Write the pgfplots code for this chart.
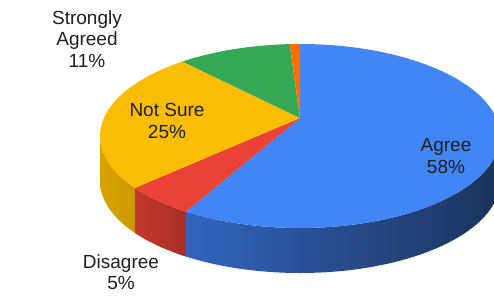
\documentclass[border=0pt]{standalone}
\usepackage{pgfplots}
\usepackage{pgfplotstable}
\pgfplotsset{compat=1.18}
\usepackage{fontspec}
\setmainfont{Liberation Sans}

\definecolor{cBlue}{HTML}{4285F4}
\definecolor{cBlueL}{HTML}{3364BE}
\definecolor{cBlueR}{HTML}{1B335B}
\definecolor{cRed}{HTML}{EA4335}
\definecolor{cRedL}{HTML}{C0392C}
\definecolor{cRedR}{HTML}{A92E26}
\definecolor{cYel}{HTML}{FBBC04}
\definecolor{cYelL}{HTML}{D9A300}
\definecolor{cYelR}{HTML}{CC9800}
\definecolor{cGreen}{HTML}{34A853}
\definecolor{cOrange}{HTML}{FF6D01}
\definecolor{cText}{HTML}{1F1F1F}

% shares in percent, clockwise from 12 o'clock
\pgfplotstableread{
slice pct
Agree 58
Disagree 5
NotSure 25
StronglyAgreed 11
Other 1
}\piedata

% geometry (1 axis unit = 1pt)
\def\cx{300}\def\cy{159}\def\rx{200}\def\ry{92}\def\pdepth{45}
\def\aO{0.099}% perspective: centre of the pie seen above the ellipse centre
\pgfmathsetmacro\apexY{\cy+18}

\newcommand\proj[2]{\pgfmathsetmacro#1{#2+2*atan(\aO*cos(#2)/(1+\aO*sin(#2)))}}

\pgfplotstablegetelem{0}{pct}\of\piedata \let\pA\pgfplotsretval
\pgfplotstablegetelem{1}{pct}\of\piedata \let\pB\pgfplotsretval
\pgfplotstablegetelem{2}{pct}\of\piedata \let\pC\pgfplotsretval
\pgfplotstablegetelem{3}{pct}\of\piedata \let\pD\pgfplotsretval
\pgfplotstablegetelem{4}{pct}\of\piedata \let\pE\pgfplotsretval

\pgfmathsetmacro\tA{90}
\pgfmathsetmacro\tB{\tA-3.6*\pA}
\pgfmathsetmacro\tC{\tB-3.6*\pB}
\pgfmathsetmacro\tD{\tC-3.6*\pC}
\pgfmathsetmacro\tE{\tD-3.6*\pD}
\pgfmathsetmacro\tF{\tE-3.6*\pE}
\proj\fA\tA \proj\fB\tB \proj\fC\tC \proj\fD\tD \proj\fE\tE \proj\fF\tF

% visible side ranges (front half: -180..0)
\pgfmathsetmacro\sBlo{max(\fB,-180)}\pgfmathsetmacro\sBhi{min(\fA,0)}
\pgfmathsetmacro\sRlo{max(\fC,-180)}\pgfmathsetmacro\sRhi{min(\fB,0)}
\pgfmathsetmacro\sYlo{max(\fD,-180)}\pgfmathsetmacro\sYhi{min(\fC,0)}
\pgfmathsetmacro\xBh{\cx+\rx*cos(\sBhi)}\pgfmathsetmacro\yBh{\cy-\pdepth+\ry*sin(\sBhi)}
\pgfmathsetmacro\xRh{\cx+\rx*cos(\sRhi)}\pgfmathsetmacro\yRh{\cy-\pdepth+\ry*sin(\sRhi)}
\pgfmathsetmacro\xYh{\cx+\rx*cos(\sYhi)}\pgfmathsetmacro\yYh{\cy-\pdepth+\ry*sin(\sYhi)}

\begin{document}
\begin{tikzpicture}
\begin{axis}[
  width=494pt, height=295pt, scale only axis,
  xmin=0, xmax=494, ymin=0, ymax=295,
  hide axis, clip=true,
]
% sides
\addplot[draw=none, left color=cYelL, right color=cYelR, domain=\sYlo:\sYhi, samples=40, variable=\t]
  ({\cx+\rx*cos(\t)},{\cy+\ry*sin(\t)}) -- (axis cs:\xYh,\yYh)
  arc[start angle=\sYhi, end angle=\sYlo, x radius=\rx pt, y radius=\ry pt] -- cycle;
\addplot[draw=none, left color=cRedL, right color=cRedR, domain=\sRlo:\sRhi, samples=30, variable=\t]
  ({\cx+\rx*cos(\t)},{\cy+\ry*sin(\t)}) -- (axis cs:\xRh,\yRh)
  arc[start angle=\sRhi, end angle=\sRlo, x radius=\rx pt, y radius=\ry pt] -- cycle;
\addplot[draw=none, left color=cBlueL, right color=cBlueR, domain=\sBlo:\sBhi, samples=80, variable=\t]
  ({\cx+\rx*cos(\t)},{\cy+\ry*sin(\t)}) -- (axis cs:\xBh,\yBh)
  arc[start angle=\sBhi, end angle=\sBlo, x radius=\rx pt, y radius=\ry pt] -- cycle;
% top faces
\addplot[draw=none, fill=cBlue, domain=\fB:\fA, samples=120, variable=\t]
  ({\cx+\rx*cos(\t)},{\cy+\ry*sin(\t)}) -- (axis cs:\cx,\apexY) -- cycle;
\addplot[draw=none, fill=cRed, domain=\fC:\fB, samples=30, variable=\t]
  ({\cx+\rx*cos(\t)},{\cy+\ry*sin(\t)}) -- (axis cs:\cx,\apexY) -- cycle;
\addplot[draw=none, fill=cYel, domain=\fD:\fC, samples=60, variable=\t]
  ({\cx+\rx*cos(\t)},{\cy+\ry*sin(\t)}) -- (axis cs:\cx,\apexY) -- cycle;
\addplot[draw=none, fill=cGreen, domain=\fE:\fD, samples=30, variable=\t]
  ({\cx+\rx*cos(\t)},{\cy+\ry*sin(\t)}) -- (axis cs:\cx,\apexY) -- cycle;
\addplot[draw=none, fill=cOrange, domain=\fF:\fE, samples=10, variable=\t]
  ({\cx+\rx*cos(\t)},{\cy+\ry*sin(\t)}) -- (axis cs:\cx,\apexY) -- cycle;
% labels
\tikzset{lbl/.style={align=center, text=cText, font=\fontsize{19}{21.5}\selectfont, inner sep=0pt}}
\node[lbl] at (axis cs:446,139) {Agree\\58\%};
\node[lbl] at (axis cs:167,174) {Not Sure\\25\%};
\node[lbl] at (axis cs:87,256) {Strongly\\Agreed\\11\%};
\node[lbl] at (axis cs:121,23) {Disagree\\5\%};
\end{axis}
\pgfresetboundingbox
\useasboundingbox (current axis.south west) rectangle (current axis.north east);
\end{tikzpicture}
\end{document}
